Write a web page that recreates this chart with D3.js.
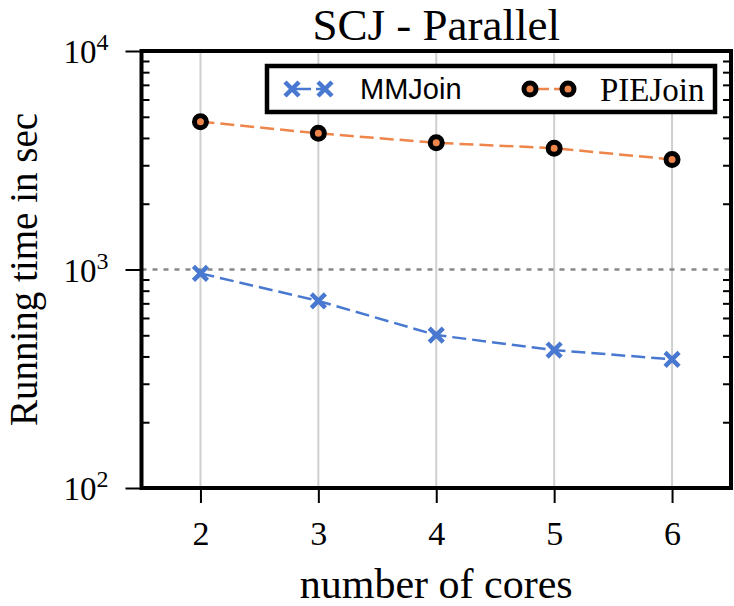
<!DOCTYPE html>
<html><head><meta charset="utf-8"><script src="https://cdn.jsdelivr.net/npm/d3@7"></script></head>
<body style="margin:0">
<svg id="chart" width="734" height="606" font-family="Liberation Serif"></svg>
<script>
// values
const cores = [2, 3, 4, 5, 6];
const mmJoin = [960, 718, 501, 428, 388];
const pieJoin = [4750, 4200, 3800, 3590, 3190];
const yMajor = [100, 1000, 10000];
const yMinor = [200, 300, 400, 500, 600, 700, 800, 900,
                2000, 3000, 4000, 5000, 6000, 7000, 8000, 9000];
const titleText = "SCJ - Parallel";
const xLabel = "number of cores";
const yLabel = "Running time in sec";

const width = 734;
const height = 606;
const margin = {top: 51, right: 3, bottom: 118, left: 141.5};
const SERIF = "Liberation Serif";
const SANS = "Liberation Sans";

const svg = d3.select("#chart");

// set the font both ways so any renderer picks it up
function font(sel, fam, size) {
  sel.attr("font-family", fam)
     .attr("font-size", size)
     .style("font-family", `"${fam}"`)
     .style("font-size", size + "px");
  return sel;
}

const x = d3.scaleLinear([1.5, 6.5], [margin.left, width - margin.right]);
const y = d3.scaleLog([100, 10000], [height - margin.bottom, margin.top]);

const blue = "#4878d0";
const orange = "#ee854a";

// vertical grid
svg.append("g")
   .selectAll("line")
   .data(cores)
   .join("line")
   .attr("x1", d => x(d)).attr("x2", d => x(d))
   .attr("y1", y(10000)).attr("y2", y(100))
   .attr("stroke", "#cfcfcf")
   .attr("stroke-width", 2);

// dotted reference line at 10^3
svg.append("line")
   .attr("x1", x(1.5)).attr("x2", x(6.5))
   .attr("y1", y(1000)).attr("y2", y(1000))
   .attr("stroke", "#888")
   .attr("stroke-width", 2.5)
   .attr("stroke-dasharray", "5,6");

// x axis
svg.append("g")
   .attr("transform", `translate(0, ${y(100)})`)
   .call(d3.axisBottom(x).tickValues(cores).tickSize(15).tickFormat(d3.format("d")))
   .call(g => g.attr("font-family", SERIF).attr("font-size", 34))
   .call(g => g.select(".domain").remove())
   .call(g => g.selectAll(".tick line").attr("stroke", "#000").attr("stroke-width", 2))
   .call(g => g.selectAll(".tick text")
               .attr("y", 57)
               .attr("dy", null)
               .attr("fill", "#000")
               .call(t => font(t, SERIF, 34)));

// y axis, major ticks outward with 10^n labels
const yAx = svg.append("g")
   .attr("transform", `translate(${margin.left}, 0)`)
   .call(d3.axisLeft(y).tickValues(yMajor).tickSize(16).tickPadding(17).tickFormat(""))
   .call(g => g.attr("font-family", SERIF).attr("font-size", 33))
   .call(g => g.select(".domain").remove())
   .call(g => g.selectAll(".tick line").attr("stroke", "#000").attr("stroke-width", 2));

yAx.selectAll(".tick text")
   .attr("fill", "#000")
   .attr("dy", "0.36em")
   .call(t => font(t, SERIF, 33))
   .each(function(d) {
     const t = d3.select(this);
     t.append("tspan").text("10");
     font(t.append("tspan").attr("dy", "-0.55em"), SERIF, 24).text(Math.round(Math.log10(d)));
   });

// minor ticks inside, left and right spines
svg.append("g")
   .attr("transform", `translate(${margin.left}, 0)`)
   .call(d3.axisRight(y).tickValues(yMinor).tickSize(8).tickFormat(""))
   .call(g => g.select(".domain").remove())
   .call(g => g.selectAll(".tick line").attr("stroke", "#000").attr("stroke-width", 2));

svg.append("g")
   .attr("transform", `translate(${width - margin.right}, 0)`)
   .call(d3.axisLeft(y).tickValues(yMinor).tickSize(8).tickFormat(""))
   .call(g => g.select(".domain").remove())
   .call(g => g.selectAll(".tick line").attr("stroke", "#000").attr("stroke-width", 2));

// series lines
const line = d3.line()
               .x((d, i) => x(cores[i]))
               .y(d => y(d));

const series = [
  {name: "MMJoin", values: mmJoin, color: blue, marker: "x"},
  {name: "PIEJoin", values: pieJoin, color: orange, marker: "o"}
];

svg.append("g")
   .attr("fill", "none")
   .selectAll("path")
   .data(series)
   .join("path")
   .attr("stroke", d => d.color)
   .attr("stroke-width", 2.5)
   .attr("stroke-dasharray", "14,6")
   .attr("d", d => line(d.values));

const cross = d3.symbol(d3.symbolTimes, 130);

function drawMarker(sel, s) {
  if (s.marker === "x") {
    sel.append("path")
       .attr("d", cross)
       .attr("fill", "none")
       .attr("stroke", s.color)
       .attr("stroke-width", 4.5);
  } else {
    sel.append("circle")
       .attr("r", 6)
       .attr("fill", s.color)
       .attr("stroke", "#000")
       .attr("stroke-width", 5);
  }
}

series.forEach(s => {
  svg.append("g")
     .selectAll("g")
     .data(s.values)
     .join("g")
     .attr("transform", (d, i) => `translate(${x(cores[i])}, ${y(d)})`)
     .each(function() { drawMarker(d3.select(this), s); });
});

// frame
svg.append("rect")
   .attr("x", margin.left).attr("y", margin.top)
   .attr("width", width - margin.right - margin.left)
   .attr("height", height - margin.bottom - margin.top)
   .attr("fill", "none")
   .attr("stroke", "#000")
   .attr("stroke-width", 4);

// legend
const legend = svg.append("g");
legend.append("rect")
      .attr("x", 267).attr("y", 66)
      .attr("width", 448).attr("height", 46)
      .attr("fill", "#fff")
      .attr("stroke", "#000")
      .attr("stroke-width", 4.5);

const legendItems = [
  {s: series[0], x0: 292, x1: 325, tx: 360, font: SANS, size: 29},
  {s: series[1], x0: 530, x1: 568, tx: 600, font: SERIF, size: 33}
];
legendItems.forEach(it => {
  legend.append("line")
        .attr("x1", it.x0).attr("x2", it.x1)
        .attr("y1", 89).attr("y2", 89)
        .attr("stroke", it.s.color)
        .attr("stroke-width", 2.5)
        .attr("stroke-dasharray", "19,5");
  [it.x0, it.x1].forEach(px => {
    const g = legend.append("g").attr("transform", `translate(${px}, 89)`);
    drawMarker(g, it.s);
  });
  legend.append("text")
        .attr("x", it.tx).attr("y", 89)
        .attr("dy", "0.35em")
        .call(t => font(t, it.font, it.size))
        .text(it.s.name);
});

// title and axis labels
svg.append("text")
   .attr("x", (margin.left + width - margin.right) / 2)
   .attr("y", 40)
   .attr("text-anchor", "middle")
   .call(t => font(t, SERIF, 45))
   .text(titleText);

svg.append("text")
   .attr("x", (margin.left + width - margin.right) / 2)
   .attr("y", 598)
   .attr("text-anchor", "middle")
   .call(t => font(t, SERIF, 42))
   .text(xLabel);

svg.append("text")
   .attr("transform", `translate(37, ${(margin.top + height - margin.bottom) / 2}) rotate(-90)`)
   .attr("text-anchor", "middle")
   .call(t => font(t, SERIF, 39))
   .text(yLabel);
</script>
</body></html>
